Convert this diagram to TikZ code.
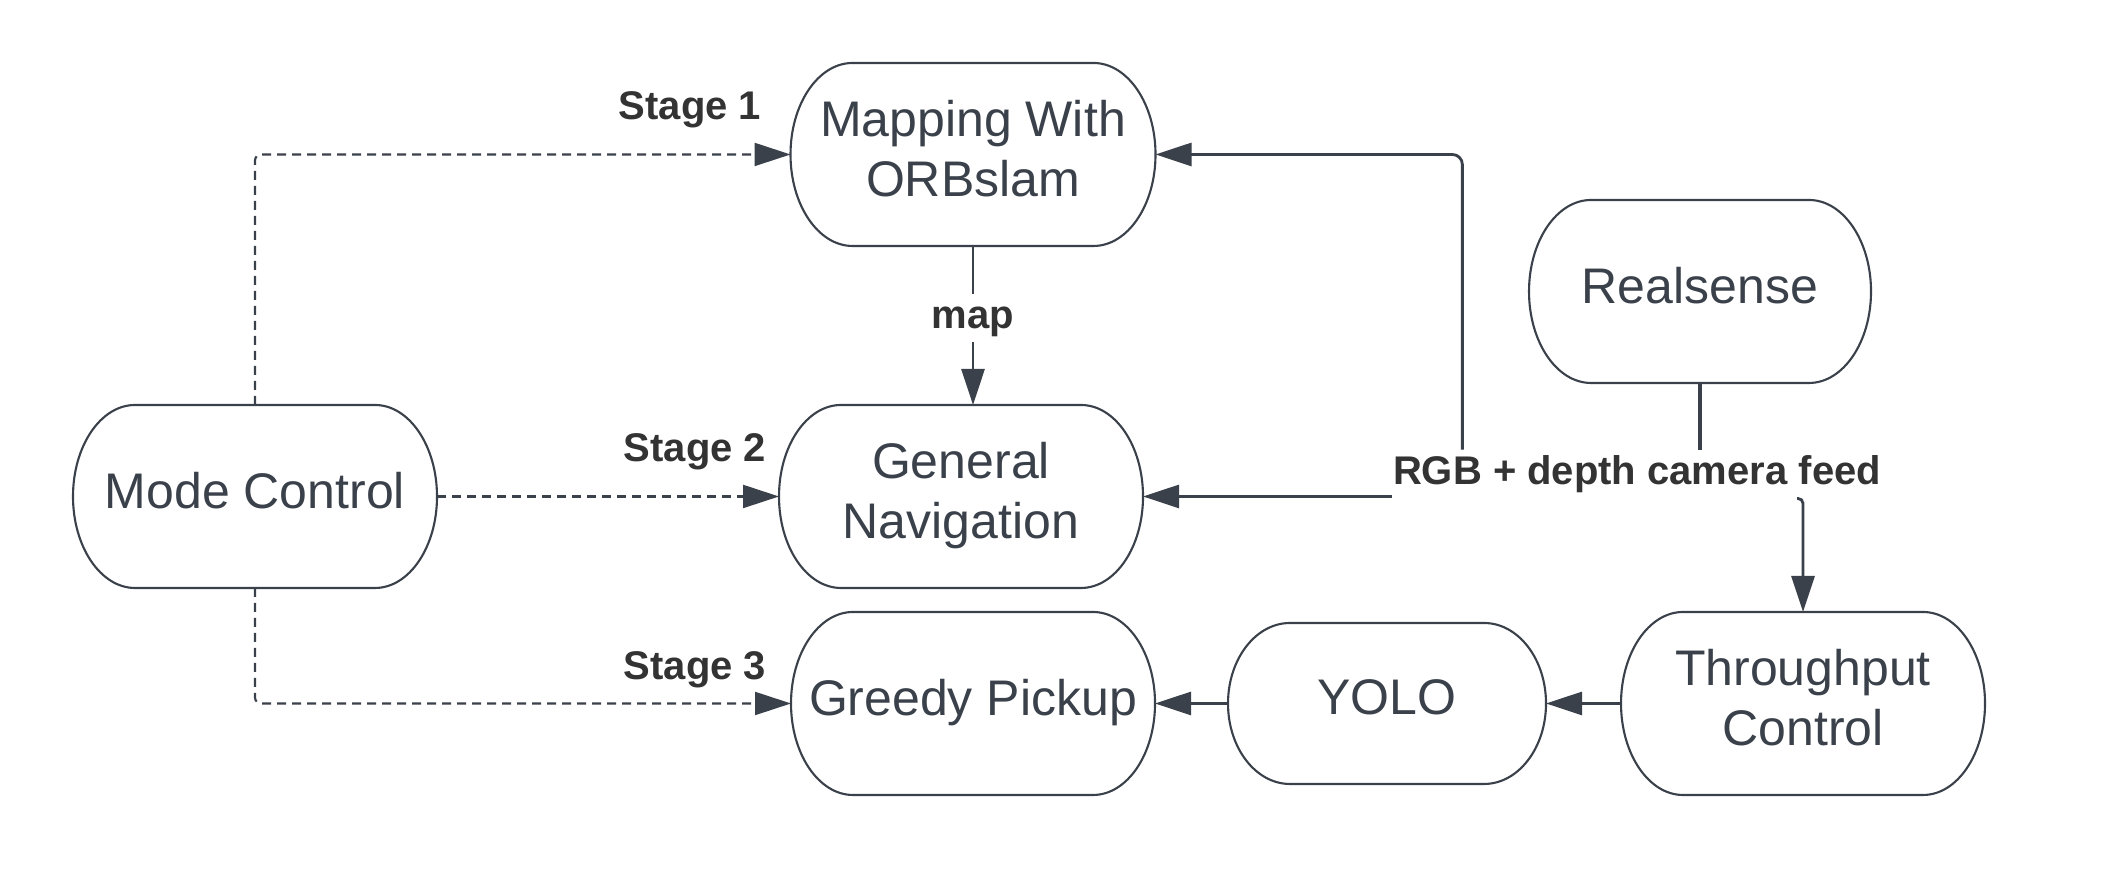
\documentclass[tikz,border=0pt]{standalone}
\usepackage{fontspec}
\setmainfont{Liberation Sans}
\usetikzlibrary{arrows.meta}
\definecolor{lineink}{HTML}{3A414A}
\definecolor{labelink}{HTML}{333333}

\begin{document}
\begin{tikzpicture}[
    block/.style={rectangle,outer sep=0pt,inner sep=0pt,minimum height=1.83cm,
      minimum width=3.64cm,align=center,text=lineink,text depth=0.12cm,
      font=\fontsize{14.23}{17.07}\selectfont},
    outline/.style={draw=lineink,line width=0.6pt},
    tag/.style={text=labelink,inner sep=0pt,font=\fontsize{11.38}{13.66}\selectfont\bfseries},
    flow/.style={draw=lineink,line width=0.8pt,-{Triangle[length=0.36cm,width=0.23cm]}},
    stage/.style={flow,line width=0.6pt,dash pattern=on 0.09cm off 0.06cm,rounded corners=0.06cm}]
    \useasboundingbox (0,0) rectangle (21.02,8.96);

    \node[block] (mode) at (2.55,3.995) {Mode Control};
    \node[block,minimum width=3.65cm] (mapping) at (9.73,7.415) {Mapping With\\ORBslam};
    \node[block] (nav) at (9.61,3.995) {General\\Navigation};
    \node[block] (greedy) at (9.73,1.925) {Greedy Pickup};
    \node[block,minimum width=3.42cm] (realsense) at (17.00,6.045) {Realsense};
    \node[block,minimum width=3.18cm,minimum height=1.61cm] (yolo) at (13.87,1.925) {YOLO};
    \node[block] (thru) at (18.03,1.925) {Throughput\\Control};

    \foreach \b/\r in {mode/0.915,mapping/0.915,nav/0.915,greedy/0.915,
                       realsense/0.915,yolo/0.805,thru/0.915}
      \draw[outline] ([xshift=0.62cm]\b.north west) -- ([xshift=-0.62cm]\b.north east)
        arc[start angle=90,end angle=-90,x radius=0.62,y radius=\r]
        -- ([xshift=0.62cm]\b.south west)
        arc[start angle=270,end angle=90,x radius=0.62,y radius=\r] -- cycle;

    \node[tag,anchor=base] (stage1) at (6.90,7.76) {Stage 1};
    \node[tag,anchor=base] (stage2) at (6.95,4.34) {Stage 2};
    \node[tag,anchor=base] (stage3) at (6.95,2.16) {Stage 3};
    \node[tag,inner ysep=0.05cm,text height=0.29cm,text depth=0.085cm] (feed)
      at (16.37,4.22) {RGB + depth camera feed};

    \draw[stage] (mode.north) |- (mapping.west);
    \draw[stage] (mode.east) -- (nav.west);
    \draw[stage] (mode.south) |- (greedy.west);
    \draw[flow] (mapping.south) -- node[tag,pos=0.45,fill=white,inner ysep=0.05cm,
      text height=0.3cm,text depth=0.08cm] (maptag) {map} (mapping.south |- nav.north);

    \draw[flow,rounded corners=0.1cm] ([xshift=0.70cm]feed.north west) |- (mapping.east);
    \draw[flow] (nav.east -| feed.west) -- (nav.east);
    \draw[draw=lineink,line width=1.1pt] (realsense.south) -- (realsense.south |- feed.north);
    \draw[flow,rounded corners=0.05cm] ([xshift=-0.06cm]feed.south -| thru.north) -| (thru.north);
    \draw[flow] (thru.west) -- (yolo.east);
    \draw[flow] (yolo.west) -- (greedy.east);
  \end{tikzpicture}
\end{document}
